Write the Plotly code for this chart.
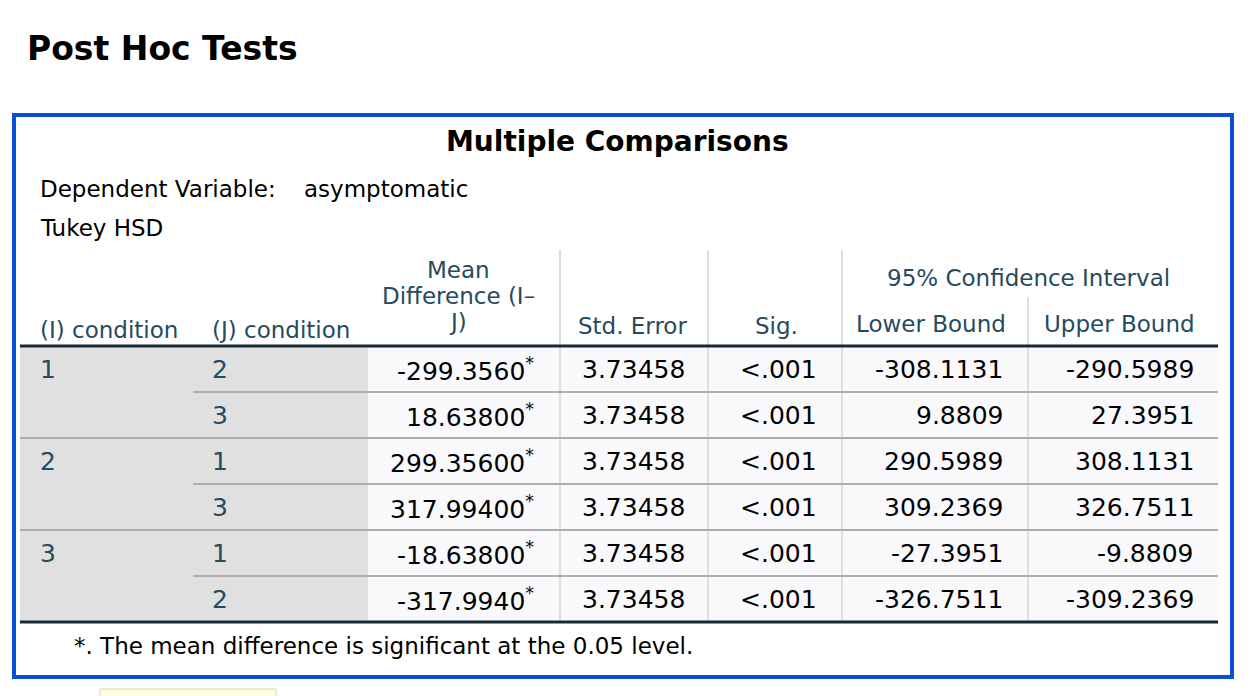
import plotly.graph_objects as go

# SPSS "Multiple Comparisons" output (Tukey HSD), values as printed
i_cond = ["1", "", "2", "", "3", ""]
j_cond = ["2", "3", "1", "3", "1", "2"]
mean_diff = ["-299.3560", "18.63800", "299.35600", "317.99400", "-18.63800", "-317.9940"]
std_err = ["3.73458", "3.73458", "3.73458", "3.73458", "3.73458", "3.73458"]
sig = ["<.001", "<.001", "<.001", "<.001", "<.001", "<.001"]
lower = ["-308.1131", "9.8809", "290.5989", "309.2369", "-27.3951", "-326.7511"]
upper = ["-290.5989", "27.3951", "308.1131", "326.7511", "-9.8809", "-309.2369"]

W, H = 1260, 696
FONT = "DejaVu Sans"
HEAD_C = "#264a60"
DATA_C = "#010205"
LIGHT = "#dedede"
ROWLINE = "#aeaeae"
DARK = "#152935"
LBL = 23   # label text size
NUM = 25   # number text size

# table geometry (pixels)
left, right = 20, 1218
stub_end = 368
col_edges = [560, 708, 842, 1028]
top_line = 346
row_h = 46
n = len(j_cond)
bottom_line = top_line + row_h * n

shapes = []
annots = []


def rect(x0, y0, x1, y1, fill, line=None, lw=0):
    shapes.append(dict(type="rect", xref="x", yref="y", x0=x0, y0=y0, x1=x1, y1=y1,
                       fillcolor=fill, line=dict(color=line or fill, width=lw), layer="below"))


def hline(x0, x1, y, color, w):
    shapes.append(dict(type="line", xref="x", yref="y", x0=x0, x1=x1, y0=y, y1=y,
                       line=dict(color=color, width=w)))


def vline(x, y0, y1, color, w):
    shapes.append(dict(type="line", xref="x", yref="y", x0=x, x1=x, y0=y0, y1=y1,
                       line=dict(color=color, width=w)))


def txt(x, y, s, size=LBL, color=DATA_C, anchor="left", bold=False):
    if bold:
        s = "<b>" + s + "</b>"
    annots.append(dict(x=x, y=y, xref="x", yref="y", text=s, showarrow=False,
                       xanchor=anchor, yanchor="middle",
                       font=dict(family=FONT, size=size, color=color)))


# page title and output frame
txt(25, 48, "Post Hoc Tests", size=33, color="#000000", bold=True)
rect(14, 115, 1232, 677, "rgba(0,0,0,0)", line="#0a4fd8", lw=4)

txt(617, 141, "Multiple Comparisons", size=28, color="#000000", anchor="center", bold=True)
txt(38, 189, "Dependent Variable:", color="#000000")
txt(302, 189, "asymptomatic", color="#000000")
txt(38, 228, "Tukey HSD", color="#000000")

# body backgrounds
rect(left, top_line, stub_end, bottom_line, "#e0e0e0")
rect(stub_end, top_line, right, bottom_line, "#f9f9fb")

# header dividers
for x in col_edges[:3]:
    vline(x, 250, top_line, LIGHT, 2)
vline(col_edges[3], 297, top_line, LIGHT, 2)

# column dividers in body
for x in col_edges:
    vline(x, top_line, bottom_line, LIGHT, 2)

# header labels
txt(38, 330, "(I) condition", color=HEAD_C)
txt(210, 330, "(J) condition", color=HEAD_C)
txt(458, 270, "Mean", color=HEAD_C, anchor="center")
txt(458, 296, "Difference (I–", color=HEAD_C, anchor="center")
txt(458, 322, "J)", color=HEAD_C, anchor="center")
txt(632, 326, "Std. Error", color=HEAD_C, anchor="center")
txt(776, 326, "Sig.", color=HEAD_C, anchor="center")
txt(1028, 278, "95% Confidence Interval", color=HEAD_C, anchor="center")
txt(931, 324, "Lower Bound", color=HEAD_C, anchor="center")
txt(1119, 324, "Upper Bound", color=HEAD_C, anchor="center")

# rows
for k in range(n):
    yc = top_line + row_h * (k + 0.5)
    if i_cond[k]:
        txt(38, yc, i_cond[k], size=NUM, color=HEAD_C)
    txt(210, yc, j_cond[k], size=NUM, color=HEAD_C)
    txt(536, yc, mean_diff[k] + "<sup>*</sup>", size=NUM, anchor="right")
    txt(687, yc, std_err[k], size=NUM, anchor="right")
    txt(819, yc, sig[k], size=NUM, anchor="right")
    txt(1005, yc, lower[k], size=NUM, anchor="right")
    txt(1196, yc, upper[k], size=NUM, anchor="right")
    if k < n - 1:
        yb = top_line + row_h * (k + 1)
        x0 = left if i_cond[k + 1] else 193
        hline(x0, right, yb, ROWLINE, 2)

hline(left, right, top_line, DARK, 3)
hline(left, right, bottom_line, DARK, 3)

txt(72, 646, "*. The mean difference is significant at the 0.05 level.", color="#000000")

# little tooltip box peeking in at the bottom
rect(100, 689, 276, 700, "#ffffe1", line="#d8d2b0", lw=1)

fig = go.Figure()
fig.update_layout(
    width=W, height=H,
    margin=dict(l=0, r=0, t=0, b=0),
    paper_bgcolor="white", plot_bgcolor="white",
    xaxis=dict(range=[0, W], visible=False, fixedrange=True),
    yaxis=dict(range=[H, 0], visible=False, fixedrange=True),
    shapes=shapes, annotations=annots,
    showlegend=False,
)
fig.write_html("out.html", config={"displayModeBar": False},
               post_script="document.body.style.margin='0';document.body.style.overflow='hidden';")
